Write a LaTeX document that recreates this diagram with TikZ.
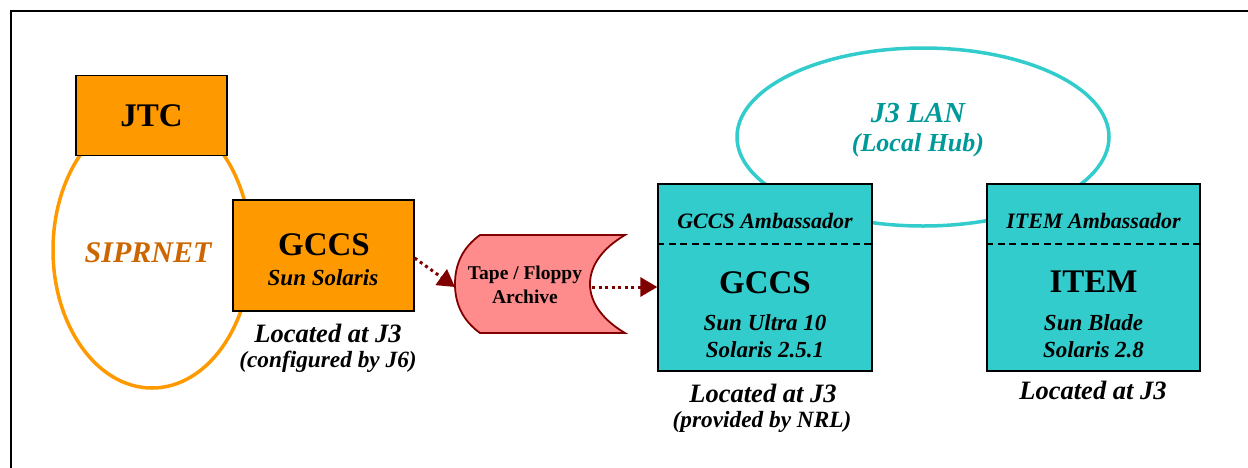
\documentclass[tikz,border=0pt]{standalone}
\usepackage{fontspec}
\setmainfont{Liberation Serif}
\usetikzlibrary{arrows.meta,positioning,shapes.geometric}

\definecolor{siprorange}{HTML}{FF9900}
\definecolor{siprtext}{HTML}{CC6600}
\definecolor{lancyan}{HTML}{33CCCC}
\definecolor{lantext}{HTML}{009999}
\definecolor{tapepink}{HTML}{FF8C8C}
\definecolor{tapered}{HTML}{800000}

\newcommand{\txtsize}[1]{\fontsize{#1}{#1}\selectfont}

\begin{document}
\begin{tikzpicture}[x=1pt, y=-1pt,
    box/.style={draw=black, line width=1.3pt, inner sep=0pt},
    orangebox/.style={box, fill=siprorange},
    cyanbox/.style={box, fill=lancyan, minimum width=214pt, minimum height=187pt},
    ring/.style={draw, ellipse, line width=3.5pt, inner sep=0pt},
    title/.style={font=\txtsize{33}\bfseries, inner sep=0pt},
    sub/.style={font=\txtsize{23}\bfseries\itshape, inner sep=0pt},
    head/.style={font=\txtsize{22}\bfseries\itshape, inner sep=0pt},
    loc/.style={font=\txtsize{26.5}\bfseries\itshape, inner sep=0pt},
    note/.style={font=\txtsize{23.3}\bfseries\itshape, inner sep=0pt},
    sepline/.style={line width=1.8pt, dash pattern=on 7pt off 4.5pt},
    dotarrow/.style={draw=tapered, line width=3pt, dash pattern=on 3pt off 3.5pt,
        -{Triangle[length=17pt,width=19pt]}}]

        % Frame
        \useasboundingbox (0,0) rectangle (1248,467);
        \clip (0,0) rectangle (1248,467);
        \draw[line width=1.8pt] (11,11) rectangle (1270,490);

        % Networks
        \node[ring, draw=siprorange, minimum width=198pt, minimum height=276pt] (sipr) at (152,250) {};
        \node[font=\txtsize{30}\bfseries\itshape, text=siprtext] (siprlabel) at (148,253) {SIPRNET};
        \node[ring, draw=lancyan, minimum width=372pt, minimum height=178pt] (lan) at (923,137) {};
        \node[font=\txtsize{29}\bfseries\itshape, text=lantext] (lanlabel) at (918,113) {J3 LAN};
        \node[font=\txtsize{26}\bfseries\itshape, text=lantext] (lanhub) at (918,145) {(Local Hub)};

        % Left side
        \node[orangebox, minimum width=151pt, minimum height=80pt] (jtc) at (151.5,115.5) {};
        \node[title] at (jtc) {JTC};
        \node[orangebox, minimum width=181pt, minimum height=111pt] (gccsL) at (323.5,255.5) {};
        \node[title] (gccsLname) at (324,245) {GCCS};
        \node[sub] (gccsLos) at (323,278) {Sun Solaris};
        \node[loc] (gccsLloc) at (328,333) {Located at J3};
        \node[note] (gccsLnote) at (328,362) {(configured by J6)};

        % Tape
        \draw[draw=tapered, fill=tapepink, line width=1.8pt]
            (480,235) -- (625,235) .. controls (603,248) and (590,265) .. (590,284)
            .. controls (590,303) and (603,320) .. (625,333) -- (480,333)
            .. controls (462,320) and (455,303) .. (455,284)
            .. controls (455,265) and (462,248) .. (480,235) -- cycle;
        \node[font=\fontsize{19.5}{24}\selectfont\bfseries, align=center, inner sep=0pt] (tape) at (525,285) {Tape / Floppy\\Archive};
        \coordinate (tapein) at (455,287);
        \coordinate (tapeout) at (592,287);

        % Right side
        \node[cyanbox] (gccsR) at (765,277.5) {};
        \node[head] (gccsRhead) at ([yshift=-37.5pt]gccsR.north) {GCCS Ambassador};
        \draw[sepline] ([yshift=-60.5pt]gccsR.north west) -- ([yshift=-60.5pt]gccsR.north east);
        \node[title] (gccsRname) at ([yshift=-99pt]gccsR.north) {GCCS};
        \node[sub] (gccsRhw) at ([yshift=-139pt]gccsR.north) {Sun Ultra 10};
        \node[sub] (gccsRos) at ([yshift=-166pt]gccsR.north) {Solaris 2.5.1};
        \node[loc] (gccsRloc) at (763,393) {Located at J3};
        \node[note] (gccsRnote) at (762,422) {(provided by NRL)};

        \node[cyanbox, minimum width=213pt] (item) at (1093.5,277.5) {};
        \node[head] (itemhead) at ([yshift=-38pt]item.north) {ITEM Ambassador};
        \draw[sepline] ([yshift=-61pt]item.north west) -- ([yshift=-61pt]item.north east);
        \node[title] (itemname) at ([yshift=-98pt]item.north) {ITEM};
        \node[sub] (itemhw) at ([yshift=-139pt]item.north) {Sun Blade};
        \node[sub] (itemos) at ([yshift=-166pt]item.north) {Solaris 2.8};
        \node[loc] (itemloc) at (1093,390.5) {Located at J3};

        % Transfers
        \draw[dotarrow] ([yshift=-2.5pt]gccsL.east) -- (tapein);
        \draw[dotarrow] (tapeout) -- (tapeout -| gccsR.west);

\end{tikzpicture}
\end{document}
